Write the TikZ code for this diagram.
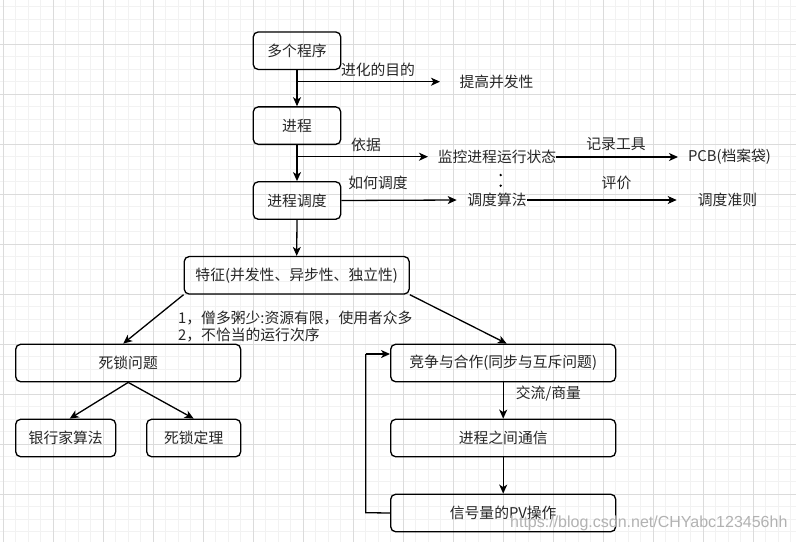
\documentclass[tikz,border=0pt]{standalone}
\usepackage{fontspec}
\newfontfamily\cjk{Noto Sans CJK SC}
\newfontfamily\wmfont{Liberation Sans}
\usetikzlibrary{arrows.meta}
\begin{document}
\begin{tikzpicture}[x=1pt,y=-1pt,
  minorgrid/.style={draw=black!5,line width=0.9pt},
  majorgrid/.style={draw=black!14,line width=0.9pt},
  box/.style={draw=black,rounded corners=5pt,line width=1.3pt,minimum height=37.5pt,inner sep=0pt,font=\cjk\fontsize{14.8}{17}\selectfont,text=black!85},
  plain/.style={inner sep=0pt,font=\cjk\fontsize{14.8}{17}\selectfont,text=black!85},
  conn/.style={line width=1.3pt,-{Stealth[length=9pt,width=8pt,inset=2.5pt]}},
  line/.style={line width=1.3pt},
  dotm/.style={circle,fill=black,inner sep=0pt,minimum size=2.6pt},
  wm/.style={inner sep=0pt,font=\wmfont\fontsize{16}{18}\selectfont,text=black!30}
]
\useasboundingbox (0,0) rectangle (796,542);
\fill[white] (0,0) rectangle (796,542);
% grid
\foreach \i in {0,...,63} \draw[minorgrid] ({3.3+12.5*\i},0) -- ({3.3+12.5*\i},542);
\foreach \i in {0,...,43} \draw[minorgrid] (0,{6.8+12.5*\i}) -- (796,{6.8+12.5*\i});
\foreach \i in {0,...,15} \draw[majorgrid] ({3.3+50*\i},0) -- ({3.3+50*\i},542);
\foreach \i in {0,...,10} \draw[majorgrid] (0,{44.3+50*\i}) -- (796,{44.3+50*\i});

% main column
\node[box,minimum width=87.5pt] (n1) at (297,50.7) {多个程序};
\node[box,minimum width=87.5pt] (n2) at (297,125.6) {进程};
\node[box,minimum width=87.5pt] (n3) at (297,200.5) {进程调度};

\node[plain] (t1) at (496.5,81.7) {提高并发性};
\node[plain] (t2) at (497,157) {监控进程运行状态};
\node[plain] (t3) at (729.5,157) {PCB(档案袋)};
\node[plain] (t4) at (497,200) {调度算法};
\node[plain] (t5) at (727.5,200) {调度准则};

\node[box,minimum width=225pt] (n4) at (296.7,275.3) {特征(并发性、异步性、独立性)};
\node[box,minimum width=225pt] (n5) at (128.2,363) {死锁问题};
\node[box,minimum width=100pt] (n6) at (65.7,438) {银行家算法};
\node[box,minimum width=94pt] (n7) at (193.7,438) {死锁定理};
\node[box,minimum width=225pt] (n8) at (503.2,363) {竞争与合作(同步与互斥问题)};
\node[box,minimum width=225pt] (n9) at (503.2,438) {进程之间通信};
\node[box,minimum width=225pt] (n10) at (503.2,513) {信号量的PV操作};

% coordinates
\coordinate (b1) at (297,81.7);
\coordinate (e1) at (440,81.7);
\coordinate (b2) at (297,156.7);
\coordinate (e2) at (428,156.7);
\coordinate (e3) at (678,157);
\coordinate (e4) at (456.7,200);
\coordinate (e5) at (676.7,200);
\coordinate (l1) at (365.7,512.7);
\coordinate (l2) at (365.7,354);

% connectors
\draw[conn] (n1.south) -- (n2.north);
\draw[conn] (b1) -- (e1);
\draw[conn] (n2.south) -- (n3.north);
\draw[conn] (b2) -- (e2);
\draw[conn] (t2.east) -- (e3);
\draw[conn] (n3.east) -- (e4);
\draw[conn] (t4.east) -- (e5);
\draw[conn] (n3.south) -- (n4.north);
\draw[conn] (n4.south west) -- ([xshift=-5pt]n5.north);
\draw[conn] (n4.south east) -- ([xshift=3.5pt]n8.north);
\draw[conn] (n5.south) -- ([xshift=4pt]n6.north);
\draw[conn] (n5.south) -- (n7.north);
\draw[conn] (n8.south) -- (n9.north);
\draw[conn] (n9.south) -- (n10.north);
\draw[line] (n10.west) -- (l1) -- (l2);
\draw[conn] (l2) -- ([yshift=9pt]n8.west);

% labels
\node[plain] (lb1) at (378,70) {进化的目的};
\node[plain] (lb2) at (366,145) {依据};
\node[plain] (lb3) at (616,144) {记录工具};
\node[plain] (lb4) at (378,183) {如何调度};
\node[plain] (lb5) at (616.5,183) {评价};
\node[dotm] (d1) at (500.7,175) {};
\node[dotm] (d2) at (500.7,185.7) {};
\node[plain,anchor=west,align=left,font=\cjk\fontsize{14.8}{17}\selectfont] (lb6) at (178,326.5) {1，僧多粥少:资源有限，使用者众多\\2，不恰当的运行次序};
\node[plain,anchor=west] (lb7) at (515.7,394) {交流/商量};

% watermark
\node[wm,anchor=west] (wm1) at (510,523) {https://blog.csdn.net/CHYabc123456hh};
\end{tikzpicture}
\end{document}
